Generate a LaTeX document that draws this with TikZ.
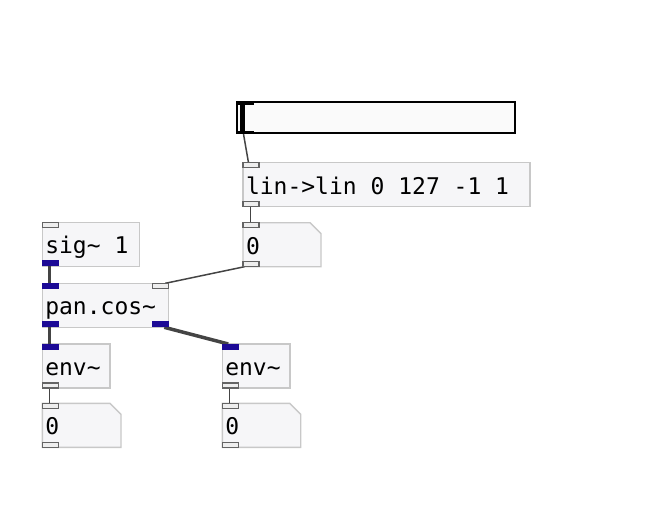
\documentclass[tikz,border=0pt]{standalone}
\usepackage{fontspec}
\setmonofont{DejaVu Sans Mono}
\usetikzlibrary{calc, backgrounds}
\definecolor{pdblue}{RGB}{28,10,150}
\definecolor{pdwire}{RGB}{68,68,68}
\definecolor{pdborder}{RGB}{200,200,200}
\definecolor{pdfill}{RGB}{246,246,248}
\definecolor{portline}{RGB}{100,100,100}
\definecolor{portfill}{RGB}{238,238,238}
\newcommand{\pdfont}{\fontsize{23}{23}\selectfont\ttfamily}

\begin{document}
\begin{tikzpicture}[x=1pt,y=-1pt,
    pdbox/.style={draw=pdborder, fill=pdfill, line width=1.4pt, anchor=north west,
        outer sep=0pt, inner xsep=3pt, inner ysep=0pt, text height=31.5pt,
        text depth=12.5pt, align=flush left, font=\pdfont},
    numbox/.style={pdbox, draw=none, fill=none},
    ctlport/.style={draw=portline, fill=portfill, line width=1.2pt},
    sigport/.style={fill=pdblue},
    ctlwire/.style={draw=pdwire, line width=1.5pt},
    sigwire/.style={draw=pdwire, line width=3.5pt}]

        \useasboundingbox (0,0) rectangle (667,507);

        % Thanh trượt
        \node[draw=black, fill=white!98!black, line width=2pt, anchor=north west, outer sep=0pt,
            inner sep=0pt, minimum width=278.5pt, minimum height=31pt] (sld) at (236.5,102) {};
        \fill[black] ($(sld.north west)+(3.5,0)$) rectangle ($(sld.south west)+(8.5,0)$);
        \draw[line width=3pt] ($(sld.north west)+(0,1)$) -- ++(17,0);
        \draw[line width=3pt] ($(sld.south west)+(0,-1)$) -- ++(17,0);

        % Các hộp đối tượng
        \node[pdbox, text width=281pt] (lin) at (243,162.7) {lin->lin 0 127 -1 1};
        \node[pdbox, text width=91pt] (sig) at (42.3,222.3) {sig\char`~{} 1};
        \node[pdbox, text width=120pt] (pan) at (42.3,283.3) {pan.cos\char`~};
        \node[pdbox, text width=61.7pt] (envl) at (42.3,344) {env\char`~};
        \node[pdbox, text width=61.7pt] (envr) at (222.3,344) {env\char`~};

        % Các hộp số
        \node[numbox, text width=72pt] (num) at (243,222.7) {0};
        \node[numbox, text width=72.7pt] (numl) at (42.3,403.3) {0};
        \node[numbox, text width=72.4pt] (numr) at (222.3,403.3) {0};
        \begin{scope}[on background layer]
            \foreach \n in {num,numl,numr}
                \draw[draw=pdborder, fill=pdfill, line width=1.4pt] (\n.north west)
                    -- ($(\n.north east)+(-11,0)$) -- ($(\n.north east)+(0,11)$)
                    -- (\n.south east) -- (\n.south west) -- cycle;
        \end{scope}

        % Các dây nối
        \draw[ctlwire] ($(sld.south west)+(7,1)$) -- ($(lin.north west)+(5.5,0)$);
        \draw[ctlwire] ($(lin.south west)+(7.5,0)$) -- ($(num.north west)+(7.5,0)$);
        \draw[ctlwire] ($(num.south west)+(1.5,0)$) -- ($(pan.north east)+(-3,0)$);
        \draw[sigwire] ($(sig.south west)+(7,0)$) -- ($(pan.north west)+(7,0)$);
        \draw[sigwire] ($(pan.south west)+(7,0)$) -- ($(envl.north west)+(7,0)$);
        \draw[sigwire] ($(pan.south east)+(-4,0)$) -- ($(envr.north west)+(6,0)$);
        \draw[ctlwire] ($(envl.south west)+(7,0)$) -- ($(numl.north west)+(7,0)$);
        \draw[ctlwire] ($(envr.south west)+(7,0)$) -- ($(numr.north west)+(7,0)$);

        % Cổng vào / ra điều khiển
        \foreach \n in {lin,num,sig,numl,numr}
            \draw[ctlport] (\n.north west) rectangle ++(16,5);
        \foreach \n in {lin,num,envl,envr,numl,numr}
            \draw[ctlport] ($(\n.south west)+(0,-5)$) rectangle ++(16,5);
        \draw[ctlport] ($(pan.north east)+(-16,0)$) rectangle ++(16,5);

        % Cổng tín hiệu
        \fill[sigport] ($(sig.south west)+(-0.7,-6)$) rectangle ++(17,6);
        \fill[sigport] ($(pan.north west)+(-0.7,0)$) rectangle ++(17,6);
        \fill[sigport] ($(pan.south west)+(-0.7,-6)$) rectangle ++(17,6);
        \fill[sigport] ($(pan.south east)+(-16.3,-6)$) rectangle ++(17,6);
        \fill[sigport] ($(envl.north west)+(-0.7,0)$) rectangle ++(17,6);
        \fill[sigport] ($(envr.north west)+(-0.7,0)$) rectangle ++(17,6);

\end{tikzpicture}
\end{document}
